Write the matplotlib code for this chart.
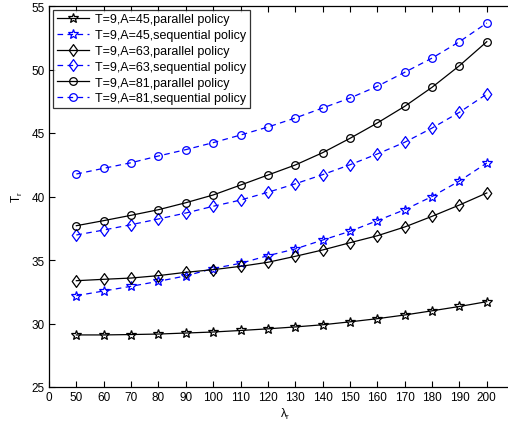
import numpy as np
import matplotlib.pyplot as plt
from matplotlib.path import Path

plt.rcParams['font.family'] = ['Liberation Sans', 'DejaVu Sans']
plt.rcParams['mathtext.default'] = 'regular'

# =============================================================
#  DATA
# =============================================================
lam = [50, 60, 70, 80, 90, 100, 110, 120, 130, 140, 150, 160, 170, 180, 190, 200]

par_45 = [29.10, 29.10, 29.13, 29.17, 29.25, 29.33, 29.45, 29.58, 29.73, 29.90,
          30.13, 30.38, 30.67, 31.00, 31.34, 31.72]
seq_45 = [32.19, 32.56, 32.93, 33.32, 33.75, 34.33, 34.74, 35.34, 35.87, 36.57,
          37.26, 38.10, 38.96, 40.00, 41.22, 42.64]
par_63 = [33.37, 33.48, 33.58, 33.77, 34.03, 34.24, 34.50, 34.82, 35.29, 35.79,
          36.36, 36.91, 37.60, 38.44, 39.33, 40.28]
seq_63 = [36.97, 37.36, 37.78, 38.23, 38.70, 39.23, 39.72, 40.33, 41.00, 41.72,
          42.50, 43.35, 44.27, 45.39, 46.63, 48.07]
par_81 = [37.70, 38.10, 38.52, 38.96, 39.51, 40.12, 40.90, 41.69, 42.48, 43.45,
          44.58, 45.79, 47.10, 48.60, 50.30, 52.19]
seq_81 = [41.77, 42.22, 42.66, 43.19, 43.69, 44.24, 44.84, 45.47, 46.18, 46.97,
          47.75, 48.68, 49.78, 50.90, 52.19, 53.66]

labels = ['T=9,A=45,parallel policy', 'T=9,A=45,sequential policy',
          'T=9,A=63,parallel policy', 'T=9,A=63,sequential policy',
          'T=9,A=81,parallel policy', 'T=9,A=81,sequential policy']

x_ticks = [40, 50, 60, 70, 80, 90, 100, 110, 120, 130, 140, 150, 160, 170, 180, 190, 200]
x_tick_labels = ['0'] + [str(v) for v in x_ticks[1:]]
y_ticks = [25, 30, 35, 40, 45, 50, 55]

# =============================================================
#  FIGURE
# =============================================================
fig = plt.figure(figsize=(5.08, 4.27), dpi=100)
ax = fig.add_axes([49 / 508, 39 / 427, 472 / 508, 381 / 427])

BLUE = '#0000ff'
dash = (0, (4.5, 3.5))

# MATLAB-like diamond: a little taller than wide
diamond = Path([(0, 1), (0.72, 0), (0, -1), (-0.72, 0), (0, 1)],
               [Path.MOVETO, Path.LINETO, Path.LINETO, Path.LINETO, Path.CLOSEPOLY])

series = [(par_45, '*', 7.5, 'k', '-'), (seq_45, '*', 7.5, BLUE, dash),
          (par_63, diamond, 8.5, 'k', '-'), (seq_63, diamond, 8.5, BLUE, dash),
          (par_81, 'o', 5.5, 'k', '-'), (seq_81, 'o', 5.5, BLUE, dash)]

for (vals, mk, ms, col, ls), lab in zip(series, labels):
    ax.plot(lam, vals, color=col, ls=ls, lw=0.9, marker=mk, ms=ms,
            mfc='none', mec=col, mew=0.9, label=lab)

ax.set_xlim(40, 212.5)
ax.set_ylim(25, 55)
ax.set_xticks(x_ticks)
ax.set_xticklabels(x_tick_labels)
ax.set_yticks(y_ticks)
ax.tick_params(direction='in', top=True, right=False, labelsize=8.5, length=4,
               width=0.8, pad=3)
ax.spines['right'].set_visible(False)
for sp in ax.spines.values():
    sp.set_linewidth(0.9)

ax.set_xlabel('λ$_r$', fontsize=8.5, labelpad=2)
ax.set_ylabel('T$_r$', fontsize=8.5, labelpad=5)

leg = ax.legend(loc='upper left', fontsize=9, frameon=True, fancybox=False,
                edgecolor='k', handlelength=2.6, handletextpad=0.5,
                labelspacing=0.3, borderpad=0.3, borderaxespad=0.3)
leg.get_frame().set_linewidth(0.9)

fig.savefig('out.png', dpi=100)
